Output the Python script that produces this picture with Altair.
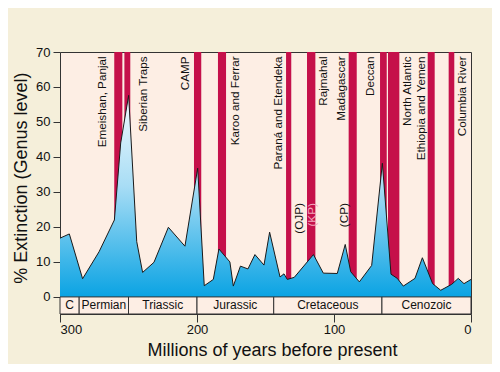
import altair as alt
import pandas as pd

# Extinction curve (Millions of years before present, % extinction at genus level)
years = [300, 293.2, 283.5, 271.5, 260.3, 255.7, 249.9, 244, 239.7, 231.4, 220.9, 208.8,
         199.5, 194.7, 188.1, 184, 176, 173.5, 168.3, 162.8, 157.7, 151.1, 147, 139.4,
         136.5, 134.1, 129, 115, 107.8, 97.6, 91.8, 87.8, 81.5, 72.5, 64.7, 58.4, 53.8,
         49.4, 40.9, 35.5, 28, 22.1, 14.1, 9.3, 5.1, 0]
values = [16.8, 18.0, 5.2, 12.9, 22.0, 44, 57.6, 15.8, 7.0, 9.9, 19.9, 14.5,
          36.8, 3.2, 5.0, 13.7, 10.0, 3.1, 8.8, 8.0, 12.1, 9.1, 18.5, 5.7,
          6.6, 5.0, 5.6, 12.1, 6.8, 6.7, 15.0, 7.2, 4.3, 9.0, 38.2, 6.5, 5.3,
          3.1, 5.3, 11.2, 3.8, 1.9, 3.6, 5.3, 3.8, 5.0]

# Flood basalt eruption bars
bar_start = [260.4, 253, 202.2, 184.7, 135, 119.7, 89.3, 66.4, 60.6, 31.6, 16.3]
bar_end = [254.5, 248.7, 196.9, 178.8, 131.2, 113.6, 83.4, 61.5, 52.3, 26.5, 12.2]

# Province labels
label_names = ["Emeishan, Panjal", "Siberian Traps", "CAMP", "Karoo and Ferrar",
               "Paraná and Etendeka", "Rajmahal", "Madagascar", "Deccan",
               "North Atlantic", "Ethiopia and Yemen", "Columbia River"]
label_x = [269.6, 239.6, 208.8, 172.3, 140.7, 107.8, 95.1, 73.7, 46.5, 36.5, 6.6]

# Oceanic plateau labels
plateau_names = ["(OJP)", "(KP)", "(CP)"]
plateau_x = [125.3, 116.3, 92.5]
plateau_colors = ["#111111", "#F2A7BC", "#111111"]

# Geological periods
period_names = ["C", "Permian", "Triassic", "Jurassic", "Cretaceous", "Cenozoic"]
period_start = [300, 286, 250, 200, 144, 65]
period_end = [286, 250, 200, 144, 65, 0]

y_ticks = [0, 10, 20, 30, 40, 50, 60, 70]
x_ticks = [300, 200, 100, 0]

Y_TOP = 70
Y_BAND = -4.88
FONT = "Liberation Sans"

curve = pd.DataFrame({"year": years, "value": values})
bars = pd.DataFrame({"s": bar_start, "e": bar_end})
bars["top"] = float(Y_TOP)
bars["bot"] = 0.0
labels = pd.DataFrame({"name": label_names, "x": label_x, "y": [68.75] * len(label_x)})
plateaus = pd.DataFrame({"name": plateau_names, "x": plateau_x,
                         "y": [26.8] * 3, "c": plateau_colors})
periods = pd.DataFrame({"name": period_names, "s": period_start, "e": period_end})
periods["mid"] = (periods["s"] + periods["e"]) / 2
periods["y0"] = Y_BAND
periods["y1"] = 0.0
periods["ym"] = Y_BAND / 2

xscale = alt.Scale(domain=[0, 300], reverse=True, nice=False, zero=False)
yscale = alt.Scale(domain=[Y_BAND, Y_TOP], nice=False, zero=False)

xaxis = alt.Axis(values=x_ticks, title="Millions of years before present",
                 domain=False, grid=False, tickSize=8, tickColor="#333333",
                 labelFontSize=13, labelFont=FONT, labelColor="#111111", labelPadding=1,
                 labelOverlap=False,
                 titleFont=FONT, titleFontSize=18, titleFontWeight="normal",
                 titleColor="#111111", titleX=212, titleY=41.7,
                 titleBaseline="alphabetic", titleAlign="center")
yaxis = alt.Axis(values=y_ticks, title="% Extinction (Genus level)",
                 domain=False, grid=False, tickSize=7, tickColor="#333333",
                 labelFontSize=13, labelFont=FONT, labelColor="#111111", labelPadding=3,
                 labelOverlap=False,
                 titleFont=FONT, titleFontSize=18, titleFontWeight="normal",
                 titleColor="#111111", titleAngle=270, titleX=-39, titleY=125.6,
                 titleAlign="center", titleBaseline="middle")


def X(field):
    return alt.X(field, scale=xscale, axis=xaxis, title="Millions of years before present")


def Y(field):
    return alt.Y(field, scale=yscale, axis=yaxis, title="% Extinction (Genus level)")


bar_layer = alt.Chart(bars).mark_rect(color="#C5104A").encode(
    x=X("s:Q"), x2="e:Q", y=Y("top:Q"), y2="bot:Q",
)

area_layer = alt.Chart(curve).mark_area(
    line={"color": "#1a1a1a", "strokeWidth": 1},
    color=alt.Gradient(
        gradient="linear",
        stops=[alt.GradientStop(color="#F2FAFE", offset=0),
               alt.GradientStop(color="#A8DDF5", offset=0.45),
               alt.GradientStop(color="#0AA3E3", offset=1)],
        x1=1, x2=1, y1=0, y2=1),
    opacity=1,
).encode(
    x=X("year:Q"), y=Y("value:Q"), y2=alt.datum(0),
)

band_layer = alt.Chart(periods).mark_rect(fill="#FDEEE4", stroke="#333333",
                                          strokeWidth=1).encode(
    x=X("s:Q"), x2="e:Q", y=Y("y0:Q"), y2="y1:Q",
)

band_text = alt.Chart(periods).mark_text(font=FONT, fontSize=12, color="#111111",
                                         baseline="middle", align="center").encode(
    x=X("mid:Q"), y=Y("ym:Q"), text="name:N",
)

label_layer = alt.Chart(labels).mark_text(font=FONT, fontSize=11.7, color="#111111",
                                          angle=270, align="right",
                                          baseline="middle").encode(
    x=X("x:Q"), y=Y("y:Q"), text="name:N",
)

plateau_layer = alt.Chart(plateaus).mark_text(font=FONT, fontSize=11.7, angle=270,
                                              align="right", baseline="middle").encode(
    x=X("x:Q"), y=Y("y:Q"), text="name:N",
    color=alt.Color("c:N", scale=None),
)

chart = alt.layer(bar_layer, area_layer, band_layer, band_text, label_layer,
                  plateau_layer).properties(
    width=411, height=262,
    autosize=alt.AutoSizeParams(type="none"),
    padding={"left": 52, "top": 44, "right": 21, "bottom": 50},
    background="#F5EFDA",
).configure_view(fill="#FDEEE4", stroke="#333333", strokeWidth=1)

chart.save("out.html", embed_options={"renderer": "svg", "actions": False})
